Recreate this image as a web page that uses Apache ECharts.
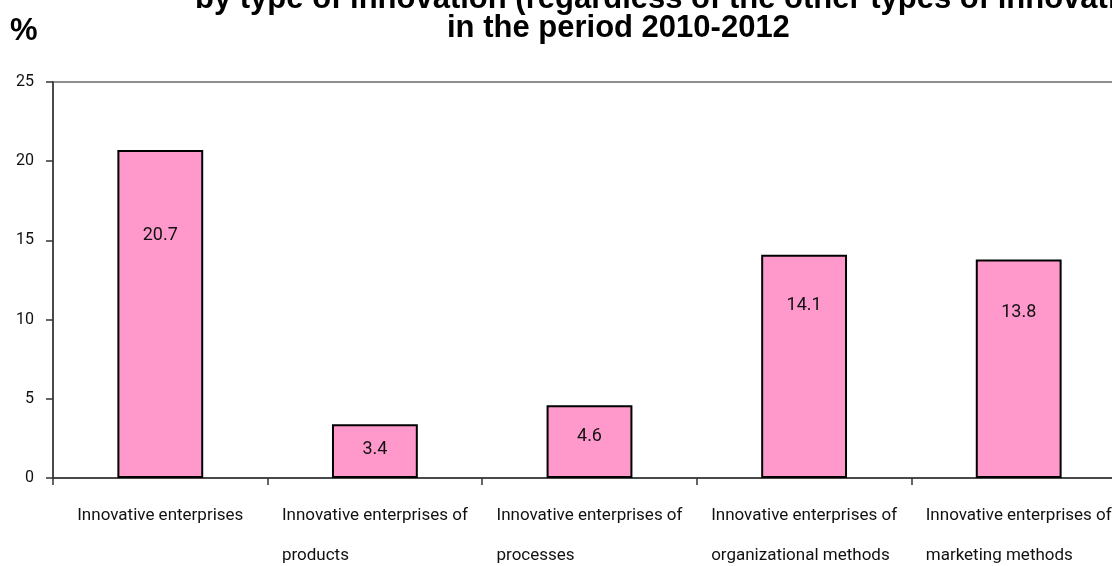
<!DOCTYPE html>
<html>
<head>
<meta charset="utf-8">
<script src="https://cdn.jsdelivr.net/npm/echarts@6/dist/echarts.min.js"></script>
<style>
  html, body { margin: 0; padding: 0; background: #fff; }
  #chart { width: 1112px; height: 566px; }
</style>
</head>
<body>
<div id="chart"></div>
<script>
// Innovative enterprises by type of innovation, 2010-2012 (% of enterprises)
const categories = [
  'Innovative enterprises',
  'Innovative enterprises of\nproducts',
  'Innovative enterprises of\nprocesses',
  'Innovative enterprises of\norganizational methods',
  'Innovative enterprises of\nmarketing methods'
];
const shares = [20.7, 3.4, 4.6, 14.1, 13.8];
const yMin = 0;
const yMax = 25;
const yStep = 5;

// distance (px) from each bar's top to the middle of its value label
const labelDrop = [85, 25, 31, 51, 53];

const narrow = "Roboto, 'DejaVu Sans Condensed', sans-serif";
const bold = "'Liberation Sans', Arial, sans-serif";

const chart = echarts.init(document.getElementById('chart'), null, { renderer: 'canvas' });

const barData = shares.map((v, i) => ({
  value: v,
  label: { offset: [0, labelDrop[i] - 10] }
}));

const titleStyle = { fontFamily: bold, fontWeight: 'bold', fontSize: 31, lineHeight: 31, color: '#000' };

chart.setOption({
  animation: false,
  backgroundColor: '#ffffff',
  title: [
    {
      text: 'by type of innovation (regardless of the other types of innovation)',
      left: 195, top: -16, padding: 0, textStyle: titleStyle
    },
    {
      text: 'in the period 2010-2012',
      left: 447, top: 13, padding: 0, textStyle: titleStyle
    },
    {
      text: '%',
      left: 10, top: 16, padding: 0, textStyle: titleStyle
    }
  ],
  grid: {
    left: 53, top: 82, right: -14, bottom: 88,
    outerBoundsMode: 'none',
    containLabel: false,
    show: true, borderColor: '#8f8f8f', borderWidth: 2, backgroundColor: 'transparent'
  },
  xAxis: {
    type: 'category',
    data: categories,
    boundaryGap: true,
    axisLine: { show: true, lineStyle: { color: '#333', width: 1.5 } },
    axisTick: { show: true, length: 7, lineStyle: { color: '#333', width: 1.5 } },
    splitLine: { show: false },
    axisLabel: {
      interval: 0,
      margin: 18,
      hideOverlap: false,
      formatter: (v) => v.split('\n').map(s => '{a|' + s + '}').join('\n'),
      rich: {
        a: { align: 'left', fontFamily: narrow, fontSize: 17, lineHeight: 40, color: '#111' }
      }
    }
  },
  yAxis: {
    type: 'value',
    min: yMin, max: yMax, interval: yStep,
    axisLine: { show: true, lineStyle: { color: '#333', width: 1.5 } },
    axisTick: { show: true, length: 7, lineStyle: { color: '#333', width: 1.5 } },
    splitLine: { show: false },
    axisLabel: { margin: 19, fontFamily: narrow, fontSize: 16, color: '#111' }
  },
  series: [{
    type: 'bar',
    data: barData,
    barWidth: '40%',
    itemStyle: { color: '#ff99cc', borderColor: '#000', borderWidth: 2 },
    label: {
      show: true,
      position: 'insideTop',
      distance: 0,
      fontFamily: narrow,
      fontSize: 18,
      lineHeight: 20,
      color: '#111'
    }
  }]
});
</script>
</body>
</html>
